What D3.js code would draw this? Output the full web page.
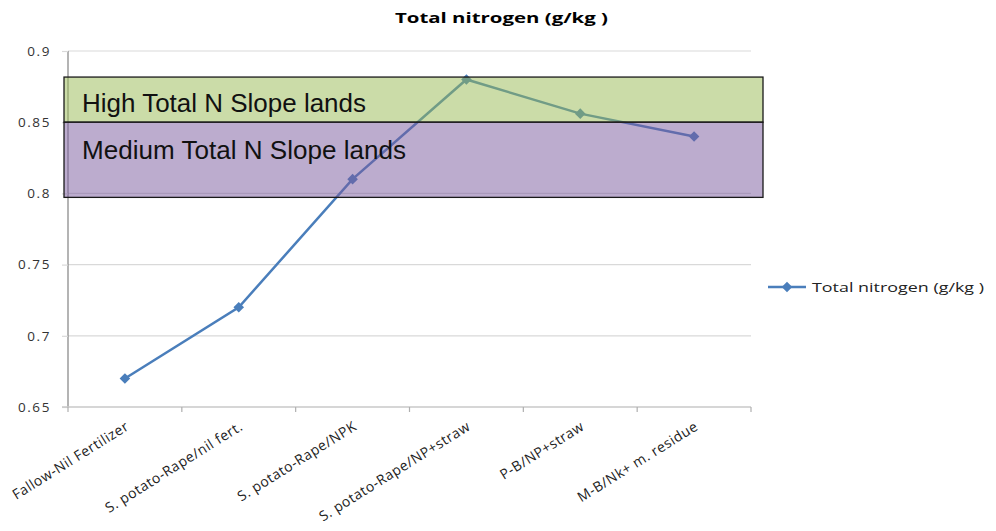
<!DOCTYPE html>
<html><head><meta charset="utf-8">
<script src="https://cdn.jsdelivr.net/npm/d3@7"></script>
<style>
html,body{margin:0;padding:0;background:#fff;}
svg{display:block;}
</style>
</head><body>
<svg id="chart" width="996" height="531"></svg>
<script>
const categories = ["Fallow-Nil Fertilizer","S. potato-Rape/nil fert.","S. potato-Rape/NPK","S. potato-Rape/NP+straw","P-B/NP+straw","M-B/Nk+ m. residue"];
const values = [0.67, 0.72, 0.81, 0.88, 0.856, 0.84];
const yTicks = [0.65, 0.7, 0.75, 0.8, 0.85, 0.9];
const yTickLabels = ["0.65","0.7","0.75","0.8","0.85","0.9"];
const zoneLabels = ["High Total N Slope lands","Medium Total N Slope lands"];
const zoneTop = [0.8817, 0.85];
const zoneBottom = [0.85, 0.7972];
const zoneColors = ["rgb(151,185,81)","rgb(121,89,157)"];
const seriesName = "Total nitrogen (g/kg )";
const title = "Total nitrogen (g/kg )";

const svg = d3.select("#chart");
const L = 68, R = 751, T = 51, B = 407;
const x = d3.scaleBand().domain(categories).range([L, R]).padding(0);
const y = d3.scaleLinear().domain([0.65, 0.9]).range([B, T]);
const cx = d => x(d) + x.bandwidth()/2;
const blue = "#4A7EBB";
const font = "'Open Sans', 'DejaVu Sans', sans-serif";

// title
svg.append("text").attr("x", 395).attr("y", 23).attr("font-family", font)
  .attr("font-weight", "bold").attr("font-size", 14).attr("fill", "#000")
  .attr("textLength", 213).attr("lengthAdjust", "spacingAndGlyphs").text(title);

// gridlines
svg.append("g").selectAll("line").data(yTicks.slice(1)).join("line")
  .attr("x1", L).attr("x2", R).attr("y1", d => y(d)).attr("y2", d => y(d))
  .attr("stroke", "#D9D9D9").attr("stroke-width", 1.2);

// y axis
const yAxis = d3.axisLeft(y).tickValues(yTicks).tickFormat((d,i) => yTickLabels[i]).tickSize(6).tickPadding(12);
const gy = svg.append("g").attr("transform", `translate(${L},0)`).call(yAxis);
gy.select(".domain").attr("stroke", "#8C8C8C").attr("stroke-width", 1.3).attr("d", `M0,${T}V${B}`);
gy.selectAll(".tick line").attr("stroke", "#D9D9D9").attr("stroke-width", 1.2);
gy.selectAll(".tick text").attr("font-family", font).attr("font-size", 13.5)
  .attr("fill", "#333").attr("letter-spacing", "1.6px").attr("x", -17);

// x axis
const xAxisLine = svg.append("g");
xAxisLine.append("line").attr("x1", L - 6).attr("x2", R).attr("y1", B).attr("y2", B)
  .attr("stroke", "#C8C8C8").attr("stroke-width", 1.3);
const bounds = categories.map(c => x(c)).concat([R]);
xAxisLine.selectAll("line.tk").data(bounds).join("line").attr("class", "tk")
  .attr("x1", d => d).attr("x2", d => d).attr("y1", B).attr("y2", B + 5)
  .attr("stroke", "#AFAFAF").attr("stroke-width", 1.2);
svg.append("g").selectAll("text").data(categories).join("text")
  .attr("transform", d => `translate(${cx(d) + 5},${B + 22}) rotate(-32)`)
  .attr("text-anchor", "end").attr("font-family", font).attr("font-size", 14)
  .attr("letter-spacing", "0.5px")
  .attr("fill", "#222").text(d => d);

// series line
const line = d3.line().x((d,i) => cx(categories[i])).y(d => y(d));
svg.append("path").datum(values).attr("d", line).attr("fill", "none")
  .attr("stroke", blue).attr("stroke-width", 2.5);
const diamond = d3.symbol().type(d3.symbolSquare).size(56);
svg.append("g").selectAll("path").data(values).join("path")
  .attr("transform", (d,i) => `translate(${cx(categories[i])},${y(d)}) rotate(45)`)
  .attr("d", diamond).attr("fill", blue);

// zones (semi-transparent overlay boxes)
const zg = svg.append("g");
zoneLabels.forEach((lab, i) => {
  zg.append("rect").attr("x", L - 4).attr("width", (R + 12) - (L - 4))
    .attr("y", y(zoneTop[i])).attr("height", y(zoneBottom[i]) - y(zoneTop[i]))
    .attr("fill", zoneColors[i]).attr("fill-opacity", 0.5)
    .attr("stroke", "#1a1a1a").attr("stroke-width", 1.3);
});
const zoneTextLen = [284, 324];
zoneLabels.forEach((lab, i) => {
  zg.append("text").attr("x", 82).attr("y", y(zoneTop[i]) + (i === 0 ? 35 : 37))
    .attr("font-family", "'Liberation Sans', Arial, sans-serif").attr("font-size", 26)
    .attr("fill", "#111").attr("textLength", zoneTextLen[i]).attr("lengthAdjust", "spacingAndGlyphs")
    .text(lab);
});

// legend
const lg = svg.append("g").attr("transform", "translate(768,287)");
lg.append("line").attr("x1", 0).attr("x2", 38).attr("y1", 0).attr("y2", 0)
  .attr("stroke", blue).attr("stroke-width", 2.5);
lg.append("path").attr("transform", "translate(19,0) rotate(45)").attr("d", diamond).attr("fill", blue);
lg.append("text").attr("x", 44).attr("y", 5).attr("font-family", font).attr("font-size", 13)
  .attr("fill", "#222").attr("textLength", 172).attr("lengthAdjust", "spacingAndGlyphs").text(seriesName);
</script>
</body></html>
